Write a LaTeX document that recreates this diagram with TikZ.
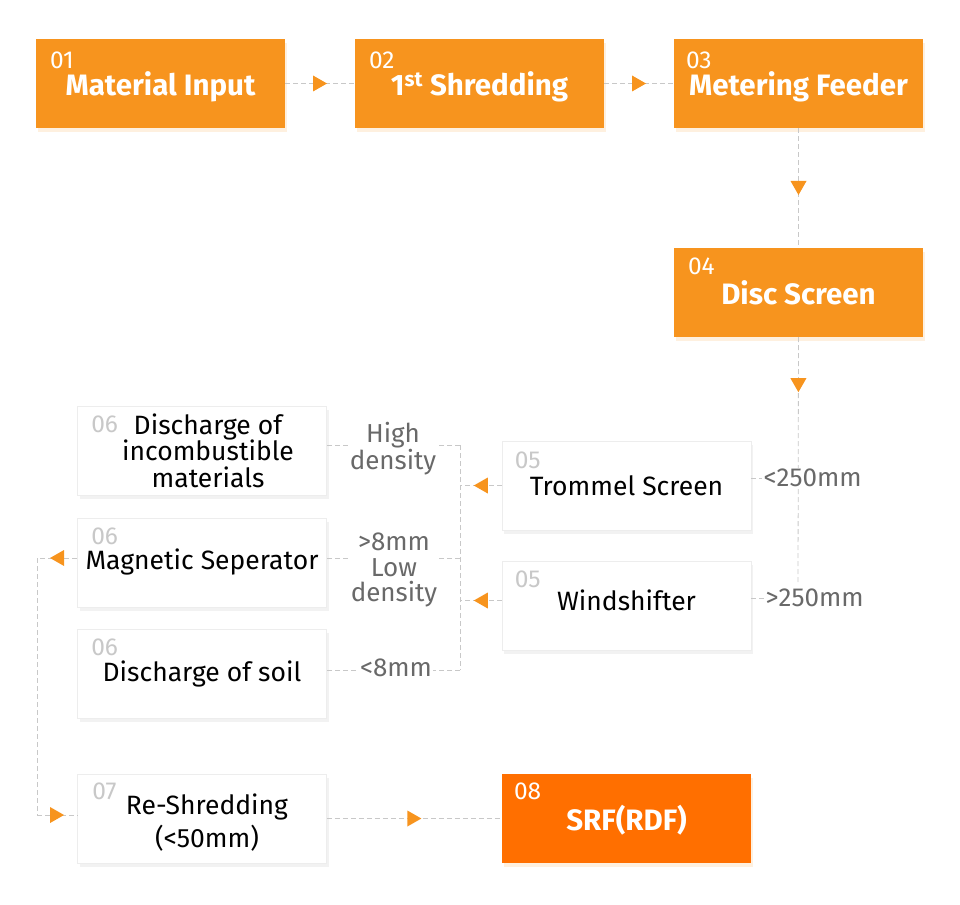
\documentclass[tikz,border=0pt]{standalone}
\usepackage{fontspec}
\setmainfont{Fira Sans}
\usetikzlibrary{positioning}
\usetikzlibrary{calc}
\usetikzlibrary{arrows.meta}
\usetikzlibrary{decorations.markings}
\usetikzlibrary{shadows}
\definecolor{MyOrange}{RGB}{247, 148, 30}
\definecolor{MyDeepOrange}{RGB}{255, 111, 0}
\definecolor{LineGray}{RGB}{200, 200, 200}
\definecolor{NumGray}{RGB}{200, 200, 200}
\definecolor{LabGray}{RGB}{105, 105, 105}
\newcommand{\lowered}[2]{\raisebox{-#1}[\height][\depth]{#2}}

\begin{document}
\begin{tikzpicture}[
  x=1pt, y=-1pt,
  stepbox/.style={minimum width=249pt, minimum height=89pt, inner sep=0pt, align=center},
  hot/.style={stepbox, fill=MyOrange, text=white, font=\fontsize{29.5}{32}\selectfont\bfseries,
              drop shadow={shadow xshift=2pt, shadow yshift=-4pt, opacity=0.14, fill=MyOrange}},
  cold/.style={stepbox, fill=white, draw=black!7, line width=0.8pt,
               font=\fontsize{26.5}{26.5}\selectfont,
               drop shadow={shadow xshift=2pt, shadow yshift=-4pt, opacity=0.05, fill=black}},
  num/.style={anchor=north west, inner sep=0pt, font=\fontsize{24.5}{24.5}\selectfont},
  lab/.style={fill=white, inner sep=1.5pt, text=LabGray, align=center,
              font=\fontsize{26}{25.5}\selectfont},
  link/.style={draw=LineGray, dash pattern=on 5pt off 3pt, line width=0.8pt},
  ar/.style={link, postaction={decorate}, decoration={markings, mark=at position #1 with
             {\fill[MyOrange] (-7pt,-8pt) -- (7pt,0pt) -- (-7pt,8pt) -- cycle;}}},
  ar/.default=0.5
]
\useasboundingbox (0,0) rectangle (960,904);
% top row
\node[hot] (input) at (160.5,83.5) {\lowered{3pt}{Material Input}};
\node[hot] (shred) at (479.5,83.5) {\lowered{3pt}{1\textsuperscript{st} Shredding}};
\node[hot] (feeder) at (798.5,83.5) {\lowered{3pt}{Metering Feeder}};
\node[hot] (disc) at (798.5,292.5) {Disc Screen};
\node[num, text=white] at ([xshift=14pt,yshift=-13pt]input.north west) {01};
\node[num, text=white] at ([xshift=14pt,yshift=-13pt]shred.north west) {02};
\node[num, text=white] at ([xshift=12pt,yshift=-13pt]feeder.north west) {03};
\node[num, text=white] at ([xshift=14pt,yshift=-10pt]disc.north west) {04};
% screens
\node[cold] (trommel) at (626.5,485.5) {Trommel Screen};
\node[cold] (windsh) at (626.5,605.5) {\lowered{-5pt}{Windshifter}};
\node[num, text=NumGray] at ([xshift=13pt,yshift=-11pt]trommel.north west) {05};
\node[num, text=NumGray] at ([xshift=13pt,yshift=-10pt]windsh.north west) {05};
% discharges
\node[cold] (disA) at (202,450.5) {\hspace*{12pt}Discharge of\hspace*{0pt}\\\hspace*{12pt}incombustible\\\hspace*{12pt}materials};
\node[cold] (magnet) at (202,562.5) {\\[-6pt]Magnetic Seperator};
\node[cold] (soil) at (202,673.5) {\\[-4pt]Discharge of soil};
\node[num, text=NumGray] at ([xshift=14pt,yshift=-10pt]disA.north west) {06};
\node[num, text=NumGray] at ([xshift=14pt,yshift=-10pt]magnet.north west) {06};
\node[num, text=NumGray] at ([xshift=14pt,yshift=-10pt]soil.north west) {06};
% bottom row
\node[cold] (reshred) at (202,818.5) {\lowered{4pt}{\shortstack{\hspace*{10pt}Re-Shredding\\[2pt]\hspace*{10pt}(<50mm)}}};
\node[hot, fill=MyDeepOrange] (srf) at (626.5,818.5) {\\[-4pt]SRF(RDF)};
\node[num, text=NumGray] at ([xshift=15pt,yshift=-9pt]reshred.north west) {07};
\node[num, text=white] at ([xshift=12pt,yshift=-9pt]srf.north west) {08};
% connectors
\draw[ar] (input.east) -- (shred.west);
\draw[ar] (shred.east) -- (feeder.west);
\draw[ar] (feeder.south) -- (disc.north);
\coordinate (split) at (798,583);
\draw[ar=48pt] (disc.south) -- (split);
\node[lab, anchor=west] (fine) at (762,478) {<250mm};
\node[lab, anchor=west] (coarse) at (764,598) {>250mm};
\draw[link] (trommel.east |- fine.west) -- (fine.west);
\draw[link] (windsh.east |- coarse.west) -- (coarse.west);
\coordinate (jA) at (460,445);
\coordinate (jB) at (460,558);
\coordinate (jC) at (460,670);
\draw[link] (jA) -- (jC);
\draw[ar] (trommel.west) -- (trommel.west -| jA);
\draw[ar] ([yshift=5pt]windsh.west) -- ([yshift=5pt]windsh.west -| jA);
\draw[link] (jA) -- (disA.east |- jA);
\draw[link] (jB) -- (magnet.east |- jB);
\draw[link] (jC) -- (soil.east |- jC);
\node[lab] (high) at (393,449) {High\\density};
\node[lab] (low) at (394,570) {>8mm\\Low\\density};
\node[lab] (small) at (396,668) {<8mm};
% loop back to re-shredding
\coordinate (loopT) at (37,558);
\coordinate (loopB) at (37,815);
\draw[ar] (magnet.west |- loopT) -- (loopT);
\draw[link] (loopT) -- (loopB);
\draw[ar] (loopB) -- (reshred.west |- loopB);
\draw[ar] (reshred.east) -- (srf.west);
\end{tikzpicture}
\end{document}
